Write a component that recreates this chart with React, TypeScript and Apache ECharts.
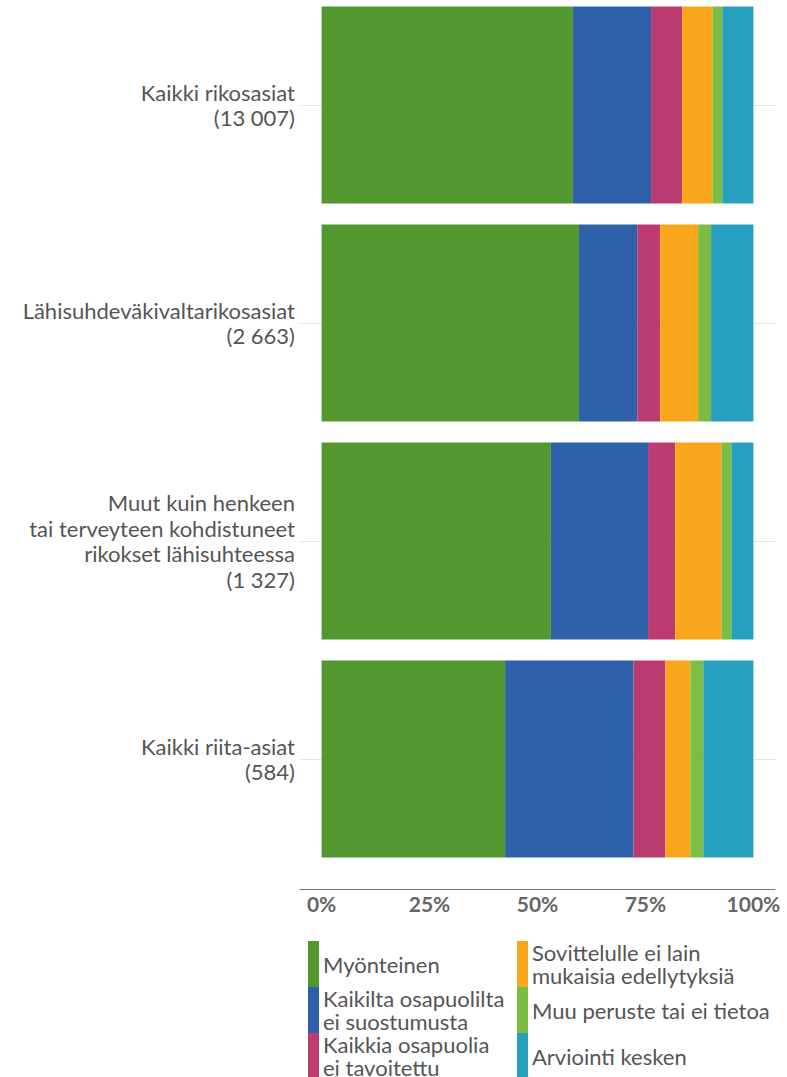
import React, { useEffect, useRef } from "react";
import * as echarts from "echarts";

const categories = [
  "Kaikki rikosasiat\n(13 007)",
  "Lähisuhdeväkivaltarikosasiat\n(2 663)",
  "Muut kuin henkeen\ntai terveyteen kohdistuneet\nrikokset lähisuhteessa\n(1 327)",
  "Kaikki riita-asiat\n(584)",
];

const seriesNames = [
  "Myönteinen",
  "Kaikilta osapuolilta ei suostumusta",
  "Kaikkia osapuolia ei tavoitettu",
  "Sovittelulle ei lain mukaisia edellytyksiä",
  "Muu peruste tai ei tietoa",
  "Arviointi kesken",
];

const legendLabels = [
  "Myönteinen",
  "Kaikilta osapuolilta\nei suostumusta",
  "Kaikkia osapuolia\nei tavoitettu",
  "Sovittelulle ei lain\nmukaisia edellytyksiä",
  "Muu peruste tai ei tietoa",
  "Arviointi kesken",
];

const myonteinen = [58.2, 59.6, 53.1, 42.5];
const eiSuostumusta = [18.1, 13.5, 22.5, 29.7];
const eiTavoitettu = [7.2, 5.3, 6.3, 7.4];
const eiEdellytyksia = [7.0, 8.8, 10.7, 5.8];
const muuPeruste = [2.3, 3.0, 2.3, 3.0];
const arviointiKesken = [7.2, 9.8, 5.1, 11.6];

const seriesValues = [myonteinen, eiSuostumusta, eiTavoitettu, eiEdellytyksia, muuPeruste, arviointiKesken];

const colors = ["#52982f", "#2f61ab", "#bc3b70", "#f8a61a", "#7bbe43", "#279fbf"];

const xTickLabels = [0, 25, 50, 75, 100];

const FONT = "Lato, 'Source Sans Pro', sans-serif";

export default function App() {
  const ref = useRef<HTMLDivElement>(null);
  useEffect(() => {
    if (!ref.current) return;
    const chart = echarts.init(ref.current, null, { renderer: "svg" });
    const labelMap: Record<string, string> = {};
    seriesNames.forEach((n, i) => (labelMap[n] = legendLabels[i]));
    const legendBase = {
      orient: "vertical",
      top: 941,
      height: 300,
      padding: 0,
      itemGap: 0,
      itemWidth: 11,
      itemHeight: 46,
      icon: "rect",
      selectedMode: false,
      formatter: (name: string) => labelMap[name],
      textStyle: { fontFamily: FONT, fontSize: 22, lineHeight: 23, color: "#555555", padding: [0, 0, 0, -1] },
    };
    chart.setOption({
      animation: false,
      color: colors,
      grid: { left: 300, right: 12, top: -4, height: 872, containLabel: false, outerBoundsMode: "none" },
      xAxis: {
        type: "value",
        min: -5,
        max: 105,
        interval: 5,
        offset: 21,
        axisLine: { show: true, lineStyle: { color: "#737373", width: 1 } },
        axisTick: { show: false },
        splitLine: { show: false },
        axisLabel: {
          margin: 4,
          fontFamily: FONT,
          fontSize: 21,
          fontWeight: "bold",
          color: "#666666",
          showMinLabel: false,
          showMaxLabel: false,
          formatter: (v: number) => (xTickLabels.indexOf(Math.round(v)) >= 0 && Math.abs(v - Math.round(v)) < 1e-6 ? `${Math.round(v)}%` : ""),
        },
      },
      yAxis: {
        type: "category",
        data: categories,
        inverse: true,
        axisLine: { show: false },
        axisTick: { show: false },
        splitLine: { show: false },
        axisLabel: {
          margin: 5,
          fontFamily: FONT,
          fontSize: 22,
          lineHeight: 25.5,
          color: "#555555",
          align: "right",
        },
      },
      legend: [
        { ...legendBase, left: 308, data: seriesNames.slice(0, 3) },
        { ...legendBase, left: 517, data: seriesNames.slice(3, 6) },
      ],
      series: seriesNames.map((name, i) => ({
        name,
        type: "bar",
        stack: "total",
        barWidth: 197,
        data: seriesValues[i],
        itemStyle: { color: colors[i] },
        emphasis: { disabled: true },
        ...(i === 0
          ? {
              markLine: {
                silent: true,
                z: 0,
                symbol: "none",
                label: { show: false },
                lineStyle: { color: "#e6e6e6", width: 1, type: "solid" },
                data: categories.map((c) => ({ yAxis: c })),
              },
            }
          : {}),
      })),
    });
    return () => chart.dispose();
  }, []);
  return <div ref={ref} style={{ width: 787, height: 1077, position: "absolute", left: 0, top: 0 }} />;
}
